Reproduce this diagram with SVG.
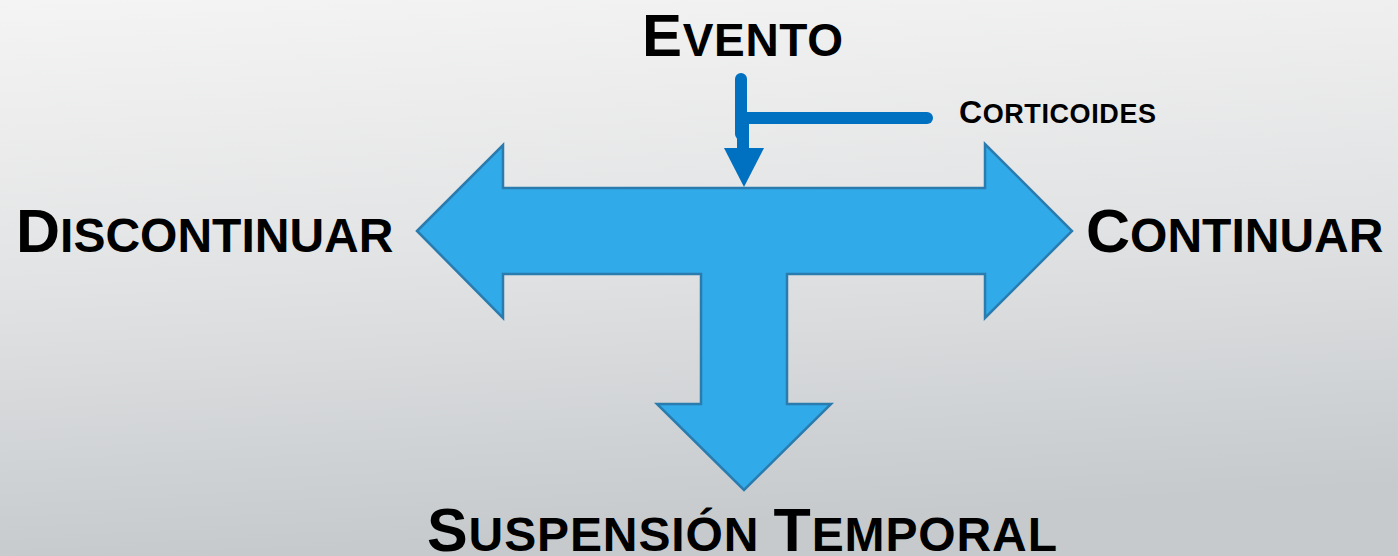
<svg xmlns="http://www.w3.org/2000/svg" width="1398" height="556" viewBox="0 0 1398 556">
  <defs>
    <linearGradient id="bg" x1="0" y1="0" x2="0.15" y2="1">
      <stop offset="0" stop-color="#F4F4F4"/>
      <stop offset="0.5" stop-color="#E2E3E4"/>
      <stop offset="1" stop-color="#C6CACD"/>
    </linearGradient>
  </defs>
  <style>
    .lbl { font-family: "Liberation Sans", Arial, sans-serif; font-weight: bold; fill: #000; }
    .big { font-size: 61px; }
    .sm { font-size: 48px; }
    .shape { fill: #31AAEA; stroke: #2A7BAE; stroke-width: 2.5; stroke-linejoin: miter; }
    .conn { stroke: #0070C0; stroke-width: 12; stroke-linecap: round; fill: none; }
  </style>
  <rect x="0" y="0" width="1398" height="556" fill="url(#bg)"/>

  <g id="arrow-shape">
    <path class="shape" d="M417,231 L503,145 L503,188 L985,188 L985,144 L1072,231 L985,318 L985,274 L787,274 L787,404 L831,404 L744,490 L657,404 L701,404 L701,274 L503,274 L503,318 Z"/>
  </g>

  <g id="connectors">
    <line class="conn" x1="741" y1="79" x2="741" y2="134"/>
    <line class="conn" x1="743" y1="118" x2="743" y2="150" stroke-linecap="butt"/>
    <line class="conn" x1="747" y1="118" x2="927" y2="118"/>
    <polygon points="724,148 764,148 744,187" fill="#0070C0"/>
  </g>

  <g id="node-evento">
    <text class="lbl" x="642" y="56" textLength="201"><tspan font-size="60">E</tspan><tspan font-size="46">VENTO</tspan></text>
  </g>
  <g id="node-corticoides">
    <text class="lbl" x="959" y="123" textLength="197"><tspan font-size="32">C</tspan><tspan font-size="27">ORTICOIDES</tspan></text>
  </g>
  <g id="node-discontinuar">
    <text class="lbl" x="16" y="252"><tspan class="big">D</tspan><tspan class="sm">ISCONTINUAR</tspan></text>
  </g>
  <g id="node-continuar">
    <text class="lbl" x="1086" y="252"><tspan class="big">C</tspan><tspan class="sm">ONTINUAR</tspan></text>
  </g>
  <g id="node-suspension">
    <text class="lbl" x="427" y="551" textLength="630"><tspan class="big">S</tspan><tspan class="sm">USPENSIÓN </tspan><tspan class="big">T</tspan><tspan class="sm">EMPORAL</tspan></text>
  </g>
</svg>
